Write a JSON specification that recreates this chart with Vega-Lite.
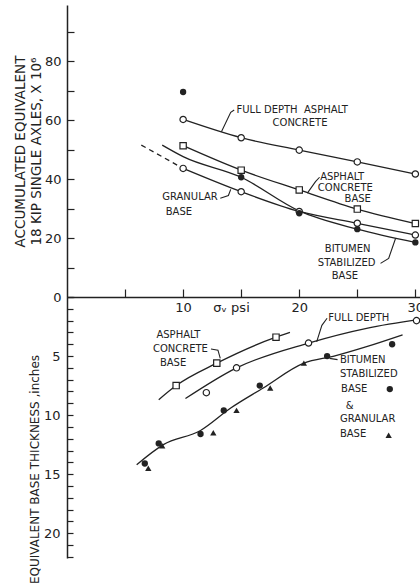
{
  "$schema": "https://vega.github.io/schema/vega-lite/v6.json",
  "background": "white",
  "padding": {"left": 13, "top": 5, "right": 0, "bottom": 0},
  "spacing": 0,
  "bounds": "flush",
  "resolve": {"scale": {"x": "independent", "y": "independent"}},
  "config": {
    "view": {"stroke": null},
    "axis": {
      "grid": false,
      "domainColor": "#222",
      "domainWidth": 1.5,
      "tickColor": "#222",
      "tickWidth": 1.2,
      "labelColor": "#222",
      "labelFont": "DejaVu Sans",
      "labelFontSize": 13,
      "labelOverlap": false,
      "labelFlush": false,
      "labelBound": false,
      "titleColor": "#222",
      "titleFont": "DejaVu Sans",
      "titleFontWeight": "normal"
    }
  },
  "datasets": {
    "topLines": [
      {"series": "Full depth", "x": 10, "y": 60.2}, {"series": "Full depth", "x": 15, "y": 54.0}, {"series": "Full depth", "x": 20, "y": 49.8}, {"series": "Full depth", "x": 25, "y": 45.8}, {"series": "Full depth", "x": 30, "y": 41.7},
      {"series": "Asphalt concrete base", "x": 10, "y": 51.3}, {"series": "Asphalt concrete base", "x": 15, "y": 43.0}, {"series": "Asphalt concrete base", "x": 20, "y": 36.3}, {"series": "Asphalt concrete base", "x": 25, "y": 29.8}, {"series": "Asphalt concrete base", "x": 30, "y": 24.9},
      {"series": "Bitumen stabilized base", "x": 8.2, "y": 51.5}, {"series": "Bitumen stabilized base", "x": 10, "y": 47.6}, {"series": "Bitumen stabilized base", "x": 15, "y": 40.6}, {"series": "Bitumen stabilized base", "x": 20, "y": 29.2}, {"series": "Bitumen stabilized base", "x": 25, "y": 23.0}, {"series": "Bitumen stabilized base", "x": 30, "y": 18.5},
      {"series": "Granular base", "x": 10, "y": 43.6}, {"series": "Granular base", "x": 15, "y": 35.7}, {"series": "Granular base", "x": 20, "y": 29.0}, {"series": "Granular base", "x": 25, "y": 25.0}, {"series": "Granular base", "x": 30, "y": 21.0}
    ],
    "topDashed": [
      {"series": "Granular base", "x": 6.4, "y": 51.5}, {"series": "Granular base", "x": 10, "y": 43.6}
    ],
    "topOpen": [
      {"series": "Full depth", "x": 10, "y": 60.2}, {"series": "Full depth", "x": 15, "y": 54.0}, {"series": "Full depth", "x": 20, "y": 49.8}, {"series": "Full depth", "x": 25, "y": 45.8}, {"series": "Full depth", "x": 30, "y": 41.7},
      {"series": "Asphalt concrete base", "x": 10, "y": 51.3}, {"series": "Asphalt concrete base", "x": 15, "y": 43.0}, {"series": "Asphalt concrete base", "x": 20, "y": 36.3}, {"series": "Asphalt concrete base", "x": 25, "y": 29.8}, {"series": "Asphalt concrete base", "x": 30, "y": 24.9},
      {"series": "Granular base", "x": 10, "y": 43.6}, {"series": "Granular base", "x": 15, "y": 35.7}, {"series": "Granular base", "x": 20, "y": 29.0}, {"series": "Granular base", "x": 25, "y": 25.0}, {"series": "Granular base", "x": 30, "y": 21.0}
    ],
    "topFilled": [
      {"series": "Bitumen stabilized base", "x": 10, "y": 69.5}, {"series": "Bitumen stabilized base", "x": 15, "y": 40.6}, {"series": "Bitumen stabilized base", "x": 20, "y": 28.4}, {"series": "Bitumen stabilized base", "x": 25, "y": 23.0}, {"series": "Bitumen stabilized base", "x": 30, "y": 18.5}
    ],
    "topText": [
      {"label": "FULL DEPTH\u00a0\u00a0ASPHALT", "x": 14.6, "y": 63.4},
      {"label": "CONCRETE", "x": 17.7, "y": 58.9},
      {"label": "ASPHALT", "x": 21.8, "y": 40.6},
      {"label": "CONCRETE", "x": 21.6, "y": 37.0},
      {"label": "BASE", "x": 23.9, "y": 33.2},
      {"label": "GRANULAR", "x": 8.2, "y": 33.8},
      {"label": "BASE", "x": 8.5, "y": 28.8},
      {"label": "BITUMEN", "x": 22.2, "y": 16.3},
      {"label": "STABILIZED", "x": 21.6, "y": 11.6},
      {"label": "BASE", "x": 22.8, "y": 7.1}
    ],
    "topLeaders": [
      {"leader": "a", "x": 14.4, "y": 63.4}, {"leader": "a", "x": 14.1, "y": 62.6}, {"leader": "a", "x": 13.3, "y": 56.0},
      {"leader": "b", "x": 21.75, "y": 40.6}, {"leader": "b", "x": 21.4, "y": 39.1}, {"leader": "b", "x": 20.7, "y": 35.2},
      {"leader": "c", "x": 13.2, "y": 33.5}, {"leader": "c", "x": 13.9, "y": 34.4}, {"leader": "c", "x": 14.1, "y": 36.5},
      {"leader": "d", "x": 27.0, "y": 11.4}, {"leader": "d", "x": 27.7, "y": 13.1}, {"leader": "d", "x": 28.3, "y": 19.9}
    ],
    "botLines": [
      {"series": "Asphalt concrete base", "x": 7.9, "y": 8.7}, {"series": "Asphalt concrete base", "x": 9.4, "y": 7.5}, {"series": "Asphalt concrete base", "x": 12.9, "y": 5.6}, {"series": "Asphalt concrete base", "x": 18.0, "y": 3.4}, {"series": "Asphalt concrete base", "x": 19.2, "y": 3.0},
      {"series": "Full depth", "x": 10.2, "y": 8.6}, {"series": "Full depth", "x": 14.6, "y": 6.0}, {"series": "Full depth", "x": 20.8, "y": 3.9}, {"series": "Full depth", "x": 25.8, "y": 2.65}, {"series": "Full depth", "x": 30.4, "y": 1.9},
      {"series": "Bitumen & granular", "x": 6.0, "y": 14.2}, {"series": "Bitumen & granular", "x": 8.3, "y": 12.5}, {"series": "Bitumen & granular", "x": 11.5, "y": 11.3}, {"series": "Bitumen & granular", "x": 14.1, "y": 9.4}, {"series": "Bitumen & granular", "x": 16.9, "y": 7.7}, {"series": "Bitumen & granular", "x": 20.4, "y": 5.6}, {"series": "Bitumen & granular", "x": 23.0, "y": 5.0}, {"series": "Bitumen & granular", "x": 25.8, "y": 4.2}, {"series": "Bitumen & granular", "x": 28.9, "y": 3.2}
    ],
    "botOpen": [
      {"series": "Asphalt concrete base", "x": 9.4, "y": 7.5}, {"series": "Asphalt concrete base", "x": 12.9, "y": 5.6}, {"series": "Asphalt concrete base", "x": 18.0, "y": 3.4},
      {"series": "Full depth", "x": 12.0, "y": 8.1}, {"series": "Full depth", "x": 14.6, "y": 6.0}, {"series": "Full depth", "x": 20.8, "y": 3.9}, {"series": "Full depth", "x": 30.1, "y": 2.0}
    ],
    "botFilled": [
      {"series": "Bitumen stabilized base", "x": 6.7, "y": 14.1}, {"series": "Bitumen stabilized base", "x": 7.9, "y": 12.4}, {"series": "Bitumen stabilized base", "x": 11.5, "y": 11.6}, {"series": "Bitumen stabilized base", "x": 13.5, "y": 9.6}, {"series": "Bitumen stabilized base", "x": 16.6, "y": 7.5}, {"series": "Bitumen stabilized base", "x": 22.4, "y": 5.0}, {"series": "Bitumen stabilized base", "x": 28.0, "y": 4.0}, {"series": "Bitumen stabilized base", "x": 27.8, "y": 7.8},
      {"series": "Granular base", "x": 7.0, "y": 14.5}, {"series": "Granular base", "x": 8.2, "y": 12.6}, {"series": "Granular base", "x": 12.6, "y": 11.5}, {"series": "Granular base", "x": 14.6, "y": 9.6}, {"series": "Granular base", "x": 17.5, "y": 7.7}, {"series": "Granular base", "x": 20.4, "y": 5.6}, {"series": "Granular base", "x": 27.7, "y": 11.7}
    ],
    "botText": [
      {"label": "ASPHALT", "x": 7.7, "y": 3.2},
      {"label": "CONCRETE", "x": 7.4, "y": 4.4},
      {"label": "BASE", "x": 8.0, "y": 5.6},
      {"label": "FULL DEPTH", "x": 22.5, "y": 1.8},
      {"label": "BITUMEN", "x": 23.5, "y": 5.3},
      {"label": "STABILIZED", "x": 23.5, "y": 6.5},
      {"label": "BASE", "x": 23.6, "y": 7.8},
      {"label": "&", "x": 24.0, "y": 9.2},
      {"label": "GRANULAR", "x": 23.5, "y": 10.3},
      {"label": "BASE", "x": 23.5, "y": 11.6}
    ],
    "botLeaders": [
      {"leader": "a", "x": 22.4, "y": 1.8}, {"leader": "a", "x": 21.95, "y": 2.4}, {"leader": "a", "x": 21.5, "y": 3.8},
      {"leader": "b", "x": 12.4, "y": 4.4}, {"leader": "b", "x": 13.0, "y": 4.5}, {"leader": "b", "x": 13.2, "y": 5.2},
      {"leader": "c", "x": 22.6, "y": 5.2}, {"leader": "c", "x": 23.3, "y": 5.3}
    ],
    "axisLabel": [
      {"label": "σᵥ psi", "x": 12.6, "y": 0.9}
    ]
  },
  "vconcat": [
    {
      "width": 353,
      "height": 292,
      "resolve": {"scale": {"shape": "independent"}, "axis": {"y": "independent"}},
      "layer": [
        {
          "data": {"name": "topLines"},
          "mark": {"type": "line", "interpolate": "monotone", "color": "#222", "strokeWidth": 1.3},
          "encoding": {
            "x": {"field": "x", "type": "quantitative", "scale": {"domain": [0, 30.4], "nice": false, "zero": false},
              "axis": {"values": [5, 10, 15, 20, 25, 30], "labelExpr": "datum.value % 10 == 0 ? datum.label : ''", "orient": "bottom", "offset": -8, "tickSize": 8, "domain": false, "labelPadding": 4, "labelOverlap": false, "title": null}},
            "y": {"field": "y", "type": "quantitative", "scale": {"domain": [0, 99], "nice": false},
              "axis": {"values": [0, 10, 20, 30, 40, 50, 60, 70, 80, 90], "labelExpr": "datum.value % 20 == 0 ? datum.label : ''", "orient": "left", "offset": -7, "tickSize": 7, "domain": false, "labelPadding": 6, "labelOverlap": false,
                "title": ["ACCUMULATED EQUIVALENT", "18 KIP SINGLE AXLES, X 10⁶"], "titleFontSize": 13.5, "titlePadding": 1, "titleLineHeight": 16}},
            "detail": {"field": "series"}
          }
        },
        {
          "data": {"name": "topDashed"},
          "mark": {"type": "line", "color": "#222", "strokeWidth": 1.3, "strokeDash": [5, 4]},
          "encoding": {"x": {"field": "x", "type": "quantitative"},
            "y": {"field": "y", "type": "quantitative", "axis": {"orient": "left", "domain": true, "ticks": false, "labels": false, "title": null}}}
        },
        {
          "data": {"name": "topLeaders"},
          "mark": {"type": "line", "color": "#222", "strokeWidth": 1.1},
          "encoding": {"x": {"field": "x", "type": "quantitative"}, "y": {"field": "y", "type": "quantitative", "axis": null}, "detail": {"field": "leader"}}
        },
        {
          "data": {"name": "topOpen"},
          "mark": {"type": "point", "filled": false, "fill": "white", "stroke": "#222", "strokeWidth": 1.2, "size": 40, "opacity": 1},
          "encoding": {"x": {"field": "x", "type": "quantitative"}, "y": {"field": "y", "type": "quantitative", "axis": null},
            "shape": {"field": "series", "type": "nominal", "scale": {"domain": ["Full depth", "Asphalt concrete base", "Granular base"], "range": ["circle", "square", "circle"]}, "legend": null}}
        },
        {
          "data": {"name": "topFilled"},
          "mark": {"type": "point", "filled": true, "color": "#222", "size": 40, "opacity": 1, "shape": "circle"},
          "encoding": {"x": {"field": "x", "type": "quantitative"}, "y": {"field": "y", "type": "quantitative", "axis": null}}
        },
        {
          "data": {"name": "topText"},
          "mark": {"type": "text", "align": "left", "baseline": "middle", "font": "DejaVu Sans", "fontSize": 10, "color": "#222"},
          "encoding": {"x": {"field": "x", "type": "quantitative"}, "y": {"field": "y", "type": "quantitative", "axis": null}, "text": {"field": "label"}}
        }
      ]
    },
    {
      "width": 353,
      "height": 261,
      "resolve": {"scale": {"shape": "independent"}, "axis": {"y": "independent"}},
      "layer": [
        {
          "data": {"name": "botLines"},
          "mark": {"type": "line", "interpolate": "monotone", "color": "#222", "strokeWidth": 1.3},
          "encoding": {
            "x": {"field": "x", "type": "quantitative", "scale": {"domain": [0, 30.4], "nice": false, "zero": false},
              "axis": {"orient": "top", "domain": true, "ticks": false, "labels": false, "title": null}},
            "y": {"field": "y", "type": "quantitative", "scale": {"domain": [0, 22.1], "nice": false, "reverse": true},
              "axis": {"values": [0, 1, 2, 3, 4, 5, 6, 7, 8, 9, 10, 11, 12, 13, 14, 15, 16, 17, 18, 19, 20, 21, 22], "labelExpr": "datum.value % 5 == 0 && datum.value > 0 ? datum.label : ''", "orient": "left", "offset": -6, "tickSize": 6, "domain": false, "labelPadding": 7, "labelOverlap": false,
                "title": "EQUIVALENT BASE THICKNESS ,inches", "titleFontSize": 12, "titlePadding": 2, "titleY": 172}},
            "detail": {"field": "series"}
          }
        },
        {
          "data": {"name": "botLeaders"},
          "mark": {"type": "line", "color": "#222", "strokeWidth": 1.1},
          "encoding": {"x": {"field": "x", "type": "quantitative"},
            "y": {"field": "y", "type": "quantitative", "axis": {"orient": "left", "domain": true, "ticks": false, "labels": false, "title": null}}, "detail": {"field": "leader"}}
        },
        {
          "data": {"name": "botOpen"},
          "mark": {"type": "point", "filled": false, "fill": "white", "stroke": "#222", "strokeWidth": 1.2, "size": 40, "opacity": 1},
          "encoding": {"x": {"field": "x", "type": "quantitative"}, "y": {"field": "y", "type": "quantitative", "axis": null},
            "shape": {"field": "series", "type": "nominal", "scale": {"domain": ["Full depth", "Asphalt concrete base"], "range": ["circle", "square"]}, "legend": null}}
        },
        {
          "data": {"name": "botFilled"},
          "mark": {"type": "point", "filled": true, "color": "#222", "size": 40, "opacity": 1},
          "encoding": {"x": {"field": "x", "type": "quantitative"}, "y": {"field": "y", "type": "quantitative", "axis": null},
            "shape": {"field": "series", "type": "nominal", "scale": {"domain": ["Bitumen stabilized base", "Granular base"], "range": ["circle", "triangle-up"]}, "legend": null}}
        },
        {
          "data": {"name": "botText"},
          "mark": {"type": "text", "align": "left", "baseline": "middle", "font": "DejaVu Sans", "fontSize": 10, "color": "#222"},
          "encoding": {"x": {"field": "x", "type": "quantitative"}, "y": {"field": "y", "type": "quantitative", "axis": null}, "text": {"field": "label"}}
        },
        {
          "data": {"name": "axisLabel"},
          "mark": {"type": "text", "align": "left", "baseline": "middle", "font": "DejaVu Sans", "fontSize": 13, "color": "#222"},
          "encoding": {"x": {"field": "x", "type": "quantitative"}, "y": {"field": "y", "type": "quantitative", "axis": null}, "text": {"field": "label"}}
        }
      ]
    }
  ]
}
